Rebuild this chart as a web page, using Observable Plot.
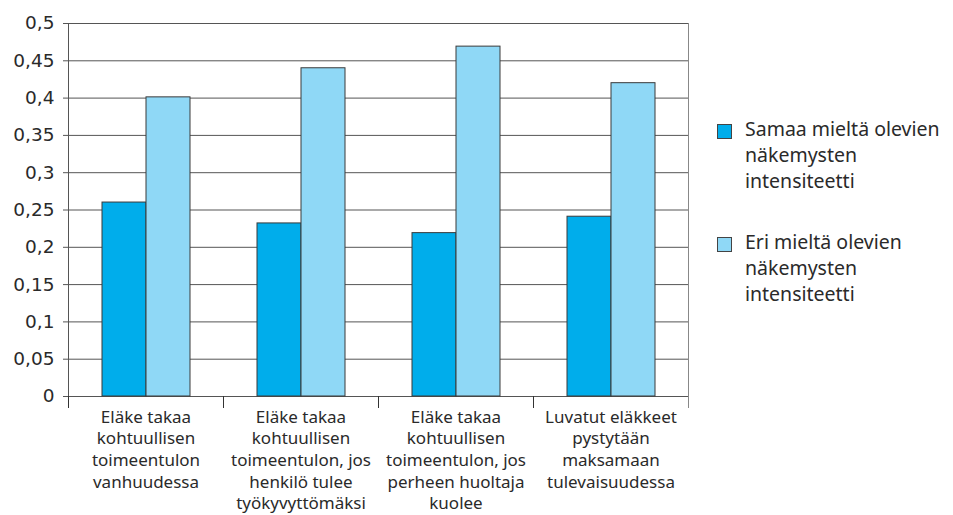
<!DOCTYPE html>
<html>
<head>
<meta charset="utf-8">
<script src="https://cdn.jsdelivr.net/npm/d3@7"></script>
<script src="https://cdn.jsdelivr.net/npm/@observablehq/plot@0.6"></script>
<style>
  html, body { margin: 0; padding: 0; background: #fff; }
  #wrap { position: relative; width: 953px; height: 515px; overflow: hidden; font-family: "Noto Sans", sans-serif; color: #2a2a2a; }
  #legend { position: absolute; left: 717px; top: 116px; font-size: 19.5px; line-height: 26px; white-space: nowrap; }
  .item { display: flex; align-items: flex-start; margin-bottom: 35px; }
  .sw { width: 13px; height: 13px; border: 1px solid #444; margin-top: 8px; margin-right: 13px; flex: none; }
</style>
</head>
<body>
<div id="wrap"><div id="chart"></div><div id="legend"></div></div>
<script>
const categories = [
  "Eläke takaa\nkohtuullisen\ntoimeentulon\nvanhuudessa",
  "Eläke takaa\nkohtuullisen\ntoimeentulon, jos\nhenkilö tulee\ntyökyvyttömäksi",
  "Eläke takaa\nkohtuullisen\ntoimeentulon, jos\nperheen huoltaja\nkuolee",
  "Luvatut eläkkeet\npystytään\nmaksamaan\ntulevaisuudessa"
];
const series = ["Samaa mieltä olevien näkemysten intensiteetti", "Eri mieltä olevien näkemysten intensiteetti"];
const samaa = [0.26, 0.232, 0.219, 0.241];
const eri = [0.401, 0.44, 0.469, 0.42];
const yTicks = [0, 0.05, 0.1, 0.15, 0.2, 0.25, 0.3, 0.35, 0.4, 0.45, 0.5];
const colors = ["#00adeb", "#8fd8f6"];

const data = categories.flatMap((c, i) => [
  {cat: c, series: series[0], value: samaa[i]},
  {cat: c, series: series[1], value: eri[i]}
]);

const W = 700, H = 515, mT = 23, mB = 119, mL = 67, mR = 12;
const innerH = H - mT - mB;
const fmt = d => String(d).replace(".", ",");

const chart = Plot.plot({
  width: W, height: H,
  marginTop: mT, marginBottom: mB, marginLeft: mL, marginRight: mR,
  style: {fontFamily: "'Noto Sans', sans-serif", color: "#2a2a2a", background: "#fff"},
  fx: {domain: categories, padding: 0, label: null},
  x: {domain: series, paddingInner: 0, paddingOuter: 0.742, axis: null},
  y: {domain: [0, 0.5], label: null},
  color: {domain: series, range: colors},
  marks: [
    Plot.ruleY(yTicks, {stroke: "#555", strokeWidth: 1}),
    Plot.barY(data, {fx: "cat", x: "series", y: "value", fill: "series", stroke: "#3a3a3a", strokeWidth: 1}),
    Plot.axisY(yTicks, {tickFormat: fmt, tickSize: 5, tickPadding: 9, fontSize: 18.5, fontFamily: "'DejaVu Sans', sans-serif", stroke: "#555", label: null}),
    Plot.axisFx({anchor: "bottom", tickSize: 0, tickPadding: 11, fontSize: 17, lineHeight: 1.27, label: null}),
    Plot.frame({facet: "super", anchor: "left", stroke: "#555", insetBottom: -11}),
    Plot.frame({facet: "super", anchor: "right", stroke: "#888", insetBottom: -11}),
    Plot.frame({anchor: "left", stroke: "#333", insetTop: innerH, insetBottom: -11})
  ]
});
document.getElementById("chart").appendChild(chart);

const legend = document.getElementById("legend");
const legendLines = [["Samaa mieltä olevien", "näkemysten", "intensiteetti"], ["Eri mieltä olevien", "näkemysten", "intensiteetti"]];
series.forEach((s, i) => {
  const item = document.createElement("div");
  item.className = "item";
  const sw = document.createElement("div");
  sw.className = "sw";
  sw.style.background = colors[i];
  const txt = document.createElement("div");
  txt.innerHTML = legendLines[i].join("<br>");
  item.appendChild(sw); item.appendChild(txt);
  legend.appendChild(item);
});
</script>
</body>
</html>
